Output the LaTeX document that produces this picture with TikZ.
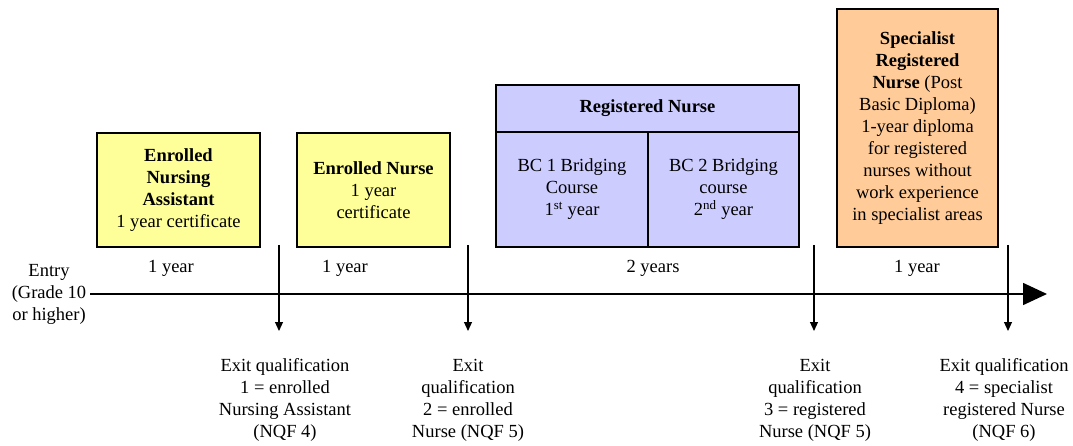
\documentclass[tikz,border=0pt]{standalone}
\usepackage{fontspec}
\setmainfont{Liberation Serif}
\usetikzlibrary{arrows.meta}
\definecolor{boxyellow}{HTML}{FFFF99}
\definecolor{boxblue}{HTML}{CCCCFF}
\definecolor{boxorange}{HTML}{FFCC99}
\tikzset{
  txt/.style={font={\fontsize{18.5}{22}\selectfont}, align=center, inner sep=0pt},
  boxnode/.style={txt, draw=black, line width=1.2pt, minimum width=#1},
  timeline/.style={line width=1.5pt, -{Triangle[length=24pt,width=22pt]}},
  exitarrow/.style={line width=1.2pt, -{Triangle[length=9pt,width=8pt]}},
}
\begin{document}
\begin{tikzpicture}[x=1pt,y=-1pt]
\useasboundingbox (0,0) rectangle (1073,446);
% boxes
\node[boxnode=163pt, minimum height=114pt, fill=boxyellow] (ena) at (178.5,190)
  {\textbf{Enrolled}\\\textbf{Nursing}\\\textbf{Assistant}\\1 year certificate};
\node[boxnode=153pt, minimum height=114pt, fill=boxyellow] (en) at (373.5,190)
  {\textbf{Enrolled Nurse}\\1 year\\certificate};
\node[boxnode=303pt, minimum height=47pt, fill=boxblue] (rn) at (647.5,108.5)
  {\textbf{Registered Nurse}};
\node[boxnode=152pt, minimum height=115pt, fill=boxblue] (bc1) at (572,189.5)
  {BC 1 Bridging\\Course\\1\textsuperscript{st} year};
\node[boxnode=151pt, minimum height=115pt, fill=boxblue] (bc2) at (723.5,189.5)
  {BC 2 Bridging\\course\\2\textsuperscript{nd} year};
\node[boxnode=161pt, minimum height=238pt, fill=boxorange] (srn) at (917.5,128)
  {\textbf{Specialist}\\\textbf{Registered}\\\textbf{Nurse} (Post\\Basic Diploma)\\1-year diploma\\for registered\\nurses without\\work experience\\in specialist areas};
% duration labels
\node[txt] (d1) at (171,268) {1 year};
\node[txt] (d2) at (345,268) {1 year};
\node[txt] (d3) at (653,268) {2 years};
\node[txt] (d4) at (917,268) {1 year};
% entry
\node[txt] (entry) at (49,294) {Entry\\(Grade 10\\or higher)};
% timeline
\coordinate (tlstart) at (90,294);
\coordinate (tlend) at (1047,294);
\draw[timeline] (tlstart) -- (tlend);
% exit arrows
\coordinate (t1) at (279,245); \coordinate (b1) at (279,331);
\coordinate (t2) at (468,245); \coordinate (b2) at (468,331);
\coordinate (t3) at (814,245); \coordinate (b3) at (814,331);
\coordinate (t4) at (1008,245); \coordinate (b4) at (1008,331);
\draw[exitarrow] (t1) -- (b1);
\draw[exitarrow] (t2) -- (b2);
\draw[exitarrow] (t3) -- (b3);
\draw[exitarrow] (t4) -- (b4);
% exit labels
\node[txt] (x1) at (285,400) {Exit qualification\\1 = enrolled\\Nursing Assistant\\(NQF 4)};
\node[txt] (x2) at (468,400) {Exit\\qualification\\2 = enrolled\\Nurse (NQF 5)};
\node[txt] (x3) at (815,400) {Exit\\qualification\\3 = registered\\Nurse (NQF 5)};
\node[txt] (x4) at (1004,400) {Exit qualification\\4 = specialist\\registered Nurse\\(NQF 6)};
\end{tikzpicture}
\end{document}
